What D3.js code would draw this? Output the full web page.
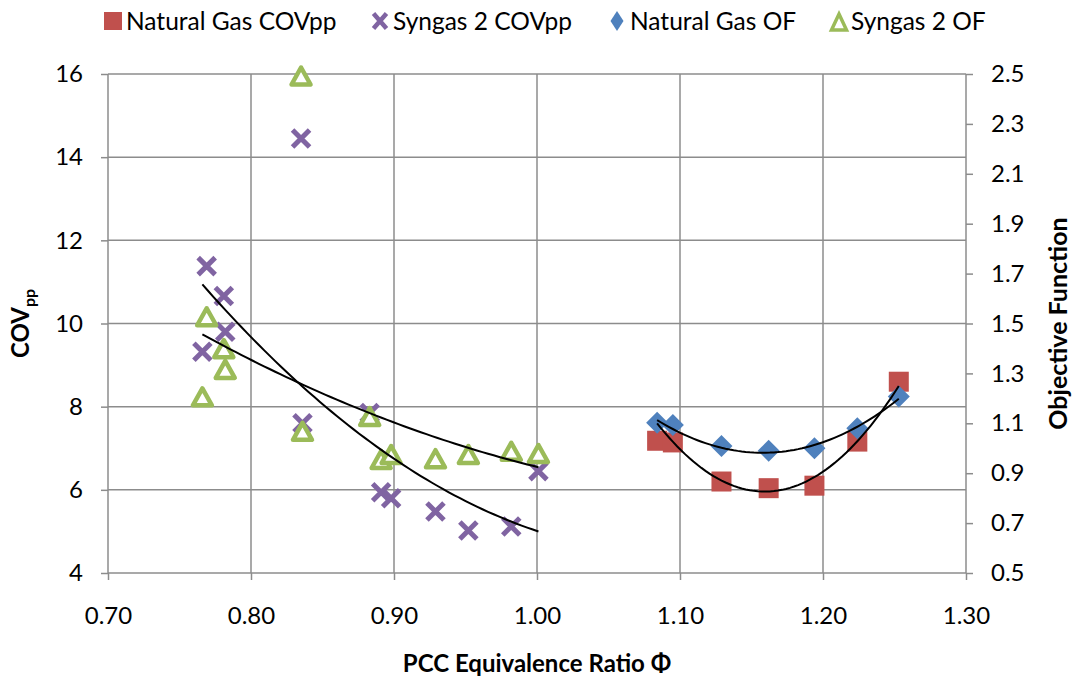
<!DOCTYPE html>
<html><head><meta charset="utf-8">
<script src="https://cdn.jsdelivr.net/npm/d3@7"></script>
<style>body{margin:0;background:#fff} svg{display:block}</style>
</head><body><svg id="chart" width="1078" height="683"></svg>
<script>
// ---- data ----
const ngPhi = [1.084, 1.095, 1.129, 1.162, 1.194, 1.224, 1.253];
const ngCOV = [7.18, 7.14, 6.20, 6.04, 6.10, 7.16, 8.60];
const ngOF  = [1.102, 1.093, 1.009, 0.990, 1.000, 1.080, 1.207];

const sgPhi = [0.766, 0.769, 0.781, 0.782, 0.835, 0.836, 0.883, 0.891, 0.898, 0.929, 0.952, 0.982, 1.001];
const sgCOV = [9.32, 11.38, 10.66, 9.80, 14.45, 7.60, 7.85, 5.94, 5.80, 5.48, 5.02, 5.12, 6.45];
const sgOF  = [1.204, 1.525, 1.397, 1.314, 2.49, 1.066, 1.125, 0.953, 0.973, 0.956, 0.973, 0.986, 0.977];

// polynomial trendlines (order 2): [x0, a, b, c, xStart, xEnd] -> y = a + b(x-x0) + c(x-x0)^2
const sgCOVTrend = [0.766, 10.94, -39.25, 59.45, 0.766, 1.001];
const sgOFTrend  = [0.7655, 1.458, -3.131, 3.667, 0.766, 1.001];
const ngCOVTrend = [1.084, 7.60, -43.6, 289.4, 1.084, 1.253];
const ngOFTrend  = [1.084, 1.113, -3.542, 23.94, 1.084, 1.253];

const xTicks = [0.70, 0.80, 0.90, 1.00, 1.10, 1.20, 1.30];
const yLeftTicks = [4, 6, 8, 10, 12, 14, 16];
const yRightTicks = [0.5, 0.7, 0.9, 1.1, 1.3, 1.5, 1.7, 1.9, 2.1, 2.3, 2.5];
const legendLabels = ["Natural Gas COVpp", "Syngas 2 COVpp", "Natural Gas OF", "Syngas 2 OF"];

// ---- drawing ----
const FONT = "Lato, 'Open Sans', sans-serif";
const GRID = "#8c8c8c";
const C_RED = "#C0504D", C_PURPLE = "#8064A2", C_BLUE = "#4F81BD", C_GREEN = "#9BBB59";
const FS = 24;

const svg = d3.select("#chart");
const L = 108, R = 966, T = 74, B = 573;
const x = d3.scaleLinear().domain([0.7, 1.3]).range([L, R]);
const yL = d3.scaleLinear().domain([4, 16]).range([B, T]);
const yR = d3.scaleLinear().domain([0.5, 2.5]).range([B, T]);

// gridlines
svg.append("g").selectAll("line").data(xTicks).join("line")
  .attr("x1", d => x(d)).attr("x2", d => x(d)).attr("y1", T).attr("y2", B)
  .attr("stroke", GRID).attr("stroke-width", 1.5);
svg.append("g").selectAll("line").data(yLeftTicks).join("line")
  .attr("x1", L).attr("x2", R).attr("y1", d => yL(d)).attr("y2", d => yL(d))
  .attr("stroke", GRID).attr("stroke-width", 1.5);

function styleAxis(g) {
  g.select(".domain").remove();
  g.selectAll(".tick line").attr("stroke", GRID).attr("stroke-width", 1.5);
  g.selectAll(".tick text").attr("fill", "#000").attr("font-family", FONT).attr("font-size", FS);
}
svg.append("g").attr("transform", `translate(${L},0)`)
  .call(d3.axisLeft(yL).tickValues(yLeftTicks).tickFormat(d3.format("d")).tickSize(7).tickPadding(18))
  .call(styleAxis);
svg.append("g").attr("transform", `translate(${R},0)`)
  .call(d3.axisRight(yR).tickValues(yRightTicks).tickFormat(d3.format(".1f")).tickSize(7).tickPadding(18))
  .call(styleAxis);
svg.append("g").attr("transform", `translate(0,${B})`)
  .call(d3.axisBottom(x).tickValues(xTicks).tickFormat(d3.format(".2f")).tickSize(7).tickPadding(27))
  .call(styleAxis);

// series markers
const pts = (xs, ys) => xs.map((v, i) => [v, ys[i]]);
const gM = svg.append("g");
// Natural Gas COVpp squares
gM.append("g").selectAll("rect").data(pts(ngPhi, ngCOV)).join("rect")
  .attr("x", d => x(d[0]) - 10).attr("y", d => yL(d[1]) - 10)
  .attr("width", 20).attr("height", 20).attr("fill", C_RED);
// Syngas 2 COVpp crosses
const xShape = "M-8.5,-8.5L8.5,8.5M-8.5,8.5L8.5,-8.5";
gM.append("g").selectAll("path").data(pts(sgPhi, sgCOV)).join("path")
  .attr("transform", d => `translate(${x(d[0])},${yL(d[1])})`)
  .attr("d", xShape).attr("stroke", C_PURPLE).attr("stroke-width", 5).attr("fill", "none");
// Natural Gas OF diamonds
gM.append("g").selectAll("path").data(pts(ngPhi, ngOF)).join("path")
  .attr("transform", d => `translate(${x(d[0])},${yR(d[1])})`)
  .attr("d", "M0,-11L11,0L0,11L-11,0Z").attr("fill", C_BLUE);
// Syngas 2 OF triangles
const triShape = "M0,-9L9.5,8L-9.5,8Z";
gM.append("g").selectAll("path").data(pts(sgPhi, sgOF)).join("path")
  .attr("transform", d => `translate(${x(d[0])},${yR(d[1])})`)
  .attr("d", triShape).attr("stroke", C_GREEN).attr("stroke-width", 4.5)
  .attr("stroke-linejoin", "round").attr("fill", "#fff");

// trendlines
function trend(t, yScale) {
  const [x0, a, b, c, xs, xe] = t;
  const n = 60;
  const d = d3.range(n + 1).map(i => {
    const xv = xs + (xe - xs) * i / n;
    const u = xv - x0;
    return [xv, a + b * u + c * u * u];
  });
  svg.append("path").datum(d)
    .attr("d", d3.line().x(p => x(p[0])).y(p => yScale(p[1])))
    .attr("fill", "none").attr("stroke", "#000").attr("stroke-width", 2);
}
trend(sgCOVTrend, yL);
trend(sgOFTrend, yR);
trend(ngCOVTrend, yL);
trend(ngOFTrend, yR);

// axis titles
svg.append("text").attr("x", (L + R) / 2).attr("y", 672).attr("text-anchor", "middle")
  .attr("font-family", FONT).attr("font-weight", "bold").attr("font-size", FS)
  .text("PCC Equivalence Ratio Φ");
const yt = svg.append("text").attr("transform", `translate(29,${(T + B) / 2}) rotate(-90)`)
  .attr("text-anchor", "middle").attr("font-family", FONT).attr("font-weight", "bold").attr("font-size", FS);
yt.append("tspan").text("COV");
yt.append("tspan").attr("font-size", 16).attr("dy", 6).text("pp");
svg.append("text").attr("transform", `translate(1067,${(T + B) / 2}) rotate(-90)`)
  .attr("text-anchor", "middle").attr("font-family", FONT).attr("font-weight", "bold").attr("font-size", 25)
  .text("Objective Function");

// legend
const legX = [104, 371, 608, 829];
const lg = svg.append("g");
legendLabels.forEach((lab, i) => {
  const g = lg.append("g").attr("transform", `translate(${legX[i]},21)`);
  if (i === 0) g.append("rect").attr("x", 0).attr("y", -9).attr("width", 18).attr("height", 18).attr("fill", C_RED);
  if (i === 1) g.append("path").attr("transform", "translate(9,0)").attr("d", "M-6.5,-7.5L6.5,7.5M-6.5,7.5L6.5,-7.5").attr("stroke", C_PURPLE).attr("stroke-width", 4.5);
  if (i === 2) g.append("path").attr("transform", "translate(9,0)").attr("d", "M0,-10L6.5,0L0,10L-6.5,0Z").attr("fill", C_BLUE);
  if (i === 3) g.append("path").attr("transform", "translate(10,1)").attr("d", "M0,-8L7.5,8L-7.5,8Z").attr("stroke", C_GREEN).attr("stroke-width", 3.5).attr("fill", "#fff");
  g.append("text").attr("x", 22).attr("y", 8.5).attr("font-family", FONT).attr("font-size", 24.5).text(lab);
});
</script>
</body></html>
